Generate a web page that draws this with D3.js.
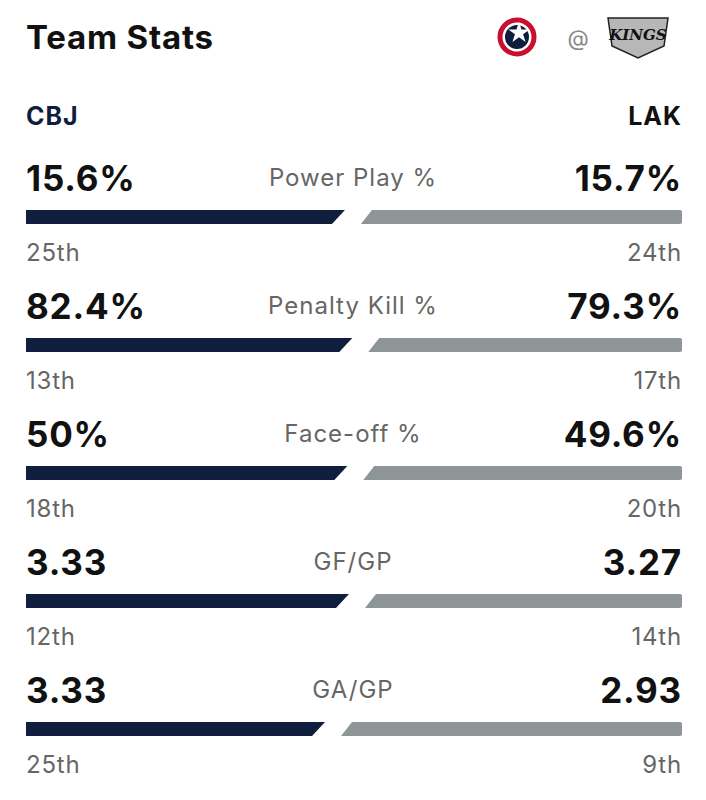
<!DOCTYPE html><html><head><meta charset="utf-8"><script src="https://cdn.jsdelivr.net/npm/d3@7"></script>
<style>body{margin:0;background:#fff}</style></head><body><svg id="c" width="706" height="800"></svg>
<script>
const stats=["Power Play %","Penalty Kill %","Face-off %","GF/GP","GA/GP"];
const cbjLabels=["15.6%","82.4%","50%","3.33","3.33"];
const lakLabels=["15.7%","79.3%","49.6%","3.27","2.93"];
const cbjVals=[15.6,82.4,50,3.33,3.33];
const lakVals=[15.7,79.3,49.6,3.27,2.93];
const lowerBetter=[false,false,false,false,true];
const cbjRanks=["25th","13th","18th","12th","25th"];
const lakRanks=["24th","17th","20th","14th","9th"];
const svg=d3.select("#c"),F="Inter, 'Noto Sans', sans-serif";
const NAVY="#0f1e3d",GRAY="#8e9597";
svg.append("text").attr("x",26).attr("y",49).attr("font-family",F).attr("font-weight",700).attr("font-size",33).attr("letter-spacing",0.8).attr("fill","#111").text("Team Stats");
const g1=svg.append("g").attr("transform","translate(517,37)");
g1.append("circle").attr("r",17).attr("fill","none").attr("stroke","#c8102e").attr("stroke-width",5);
g1.append("circle").attr("r",12).attr("fill",NAVY);
g1.append("path").attr("d",d3.symbol(d3.symbolStar,140)()).attr("fill","#fff").attr("transform","translate(2,-4)");
svg.append("text").attr("x",578).attr("y",46).attr("font-family",F).attr("font-size",22).attr("fill","#888").attr("text-anchor","middle").text("@");
svg.append("path").attr("d","M608,18 L668,18 L664,46 L638,58 L612,46 Z").attr("fill","#b7b7b7").attr("stroke","#222").attr("stroke-width",1.5);
svg.append("text").attr("x",638).attr("y",40).attr("font-family","'DejaVu Serif',serif").attr("font-style","italic").attr("font-weight",700).attr("font-size",15).attr("fill","#111").attr("text-anchor","middle").text("KINGS");
svg.append("text").attr("x",26).attr("y",125).attr("font-family",F).attr("font-weight",700).attr("font-size",25).attr("letter-spacing",1).attr("fill",NAVY).text("CBJ");
svg.append("text").attr("x",682).attr("y",125).attr("font-family",F).attr("font-weight",700).attr("font-size",25).attr("letter-spacing",1).attr("fill","#111").attr("text-anchor","end").text("LAK");
const x=d3.scaleLinear().domain([0,1]).range([26,682]);
const rowY=d3.scaleLinear().domain([0,1]).range([0,128]);
stats.forEach((s,i)=>{
  const y0=rowY(i);
  const g=svg.append("g").attr("transform",`translate(0,${y0})`);
  g.append("text").attr("x",26).attr("y",191).attr("font-family",F).attr("font-weight",700).attr("font-size",35).attr("letter-spacing",0.8).attr("fill","#111").text(cbjLabels[i]);
  g.append("text").attr("x",682).attr("y",191).attr("font-family",F).attr("font-weight",700).attr("font-size",35).attr("letter-spacing",0.8).attr("fill","#111").attr("text-anchor","end").text(lakLabels[i]);
  g.append("text").attr("x",353).attr("y",186).attr("font-family",F).attr("font-size",24).attr("letter-spacing",1).attr("fill","#666").attr("text-anchor","middle").text(s);
  let a=cbjVals[i],b=lakVals[i];
  let fr=lowerBetter[i]? b/(a+b) : a/(a+b);
  const sx=x(fr);
  g.append("path").attr("d",`M26,210 L${sx-8},210 L${sx-21},224 L26,224 Z`).attr("fill",NAVY);
  g.append("path").attr("d",`M${sx+19},210 L680,210 Q682,210 682,212 L682,222 Q682,224 680,224 L${sx+8},224 Z`).attr("fill",GRAY);
  g.append("text").attr("x",26).attr("y",261).attr("font-family",F).attr("font-size",24).attr("letter-spacing",0.8).attr("fill","#666").text(cbjRanks[i]);
  g.append("text").attr("x",682).attr("y",261).attr("font-family",F).attr("font-size",24).attr("letter-spacing",0.8).attr("fill","#666").attr("text-anchor","end").text(lakRanks[i]);
});
</script></body></html>
